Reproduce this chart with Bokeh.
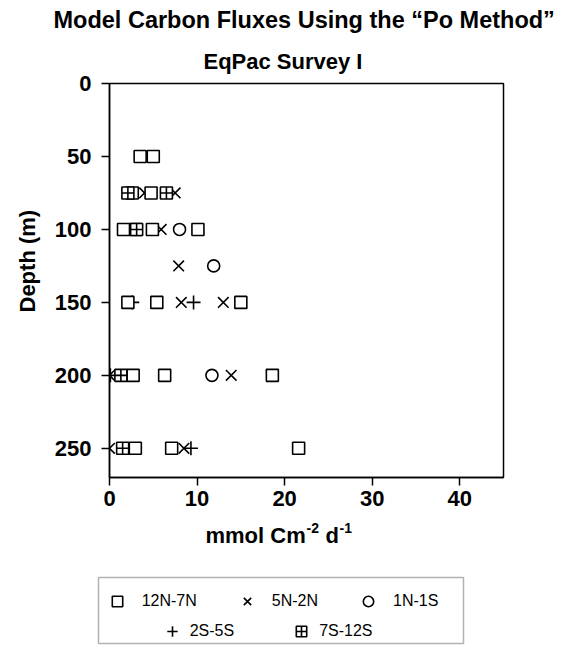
from bokeh.plotting import figure
from bokeh.models import Range1d, Label, BoxAnnotation, Legend, LegendItem, FixedTicker, Title
from bokeh.embed import file_html
from bokeh.resources import INLINE

# ---- data (flux mmol C m-2 d-1 vs depth m) ----
sq_flux = [3.5, 5.0, 2.6, 4.75, 1.6, 3.0, 4.9, 10.1, 2.1, 5.4, 15.0, 2.7, 6.3, 18.6, 2.95, 7.1, 21.6]
sq_depth = [50, 50, 75, 75, 100, 100, 100, 100, 150, 150, 150, 200, 200, 200, 250, 250, 250]
x_flux = [4.0, 7.5, 5.9, 7.9, 8.2, 13.0, 0.0, 13.9, 0.0, 8.5]
x_depth = [75, 75, 100, 125, 150, 150, 200, 200, 250, 250]
o_flux = [8.0, 11.9, 11.7]
o_depth = [100, 125, 200]
p_flux = [2.6, 9.6, 0.1, 9.3]
p_depth = [150, 150, 200, 250]
sc_flux = [2.1, 6.5, 3.1, 1.3, 1.5]
sc_depth = [75, 75, 100, 200, 250]

series_names = ["12N-7N", "5N-2N", "1N-1S", "2S-5S", "7S-12S"]
series_data = {
    "12N-7N": (sq_flux, sq_depth),
    "5N-2N": (x_flux, x_depth),
    "1N-1S": (o_flux, o_depth),
    "2S-5S": (p_flux, p_depth),
    "7S-12S": (sc_flux, sc_depth),
}
x_ticks = [0, 10, 20, 30, 40]
y_ticks = [0, 50, 100, 150, 200, 250]

FONT = "Liberation Sans"
W = 567
HA = 516
HB = 645 - HA

lw = 1.6
mk = {
    "12N-7N": dict(marker="square", size=12, line_color="black", fill_color="white", line_width=lw),
    "5N-2N": dict(marker="x", size=15, line_color="black", line_width=lw),
    "1N-1S": dict(marker="circle", size=12, line_color="black", fill_color="white", line_width=lw),
    "2S-5S": dict(marker="cross", size=14, line_color="black", line_width=lw),
    "7S-12S": dict(marker="square_cross", size=12, line_color="black", fill_color="white", line_width=lw),
}

# ---------------- main chart ----------------
p = figure(width=W, height=HA, output_backend="svg", toolbar_location=None,
           x_range=Range1d(0, 45), y_range=Range1d(270, 0),
           min_border_left=108, min_border_right=W - 503, min_border_top=83, min_border_bottom=HA - 477)
p.xgrid.visible = False
p.ygrid.visible = False
p.outline_line_color = "black"
p.outline_line_width = 1.5
p.border_fill_color = "white"

for ax in (p.xaxis[0], p.yaxis[0]):
    ax.axis_line_width = 1.5
    ax.major_tick_line_width = 1.5
    ax.major_tick_in = 0
    ax.major_tick_out = 8
    ax.minor_tick_line_color = None
    ax.major_label_text_font = FONT
    ax.major_label_text_font_size = "22px"
    ax.major_label_text_font_style = "bold"
    ax.major_label_text_color = "black"
p.xaxis.ticker = FixedTicker(ticks=x_ticks)
p.yaxis.ticker = FixedTicker(ticks=y_ticks)
p.yaxis.major_label_standoff = 10
p.xaxis.major_label_standoff = 5

tstyle = dict(text_font=FONT, text_font_style="bold", text_color="black")
p.add_layout(Title(text="EqPac Survey I", align="left", offset=94, standoff=20,
                   text_font_size="22px", **tstyle), "above")
p.add_layout(Title(text="Model Carbon Fluxes Using the \u201cPo Method\u201d", align="left", offset=-56,
                   standoff=8, text_font_size="23.5px", **tstyle), "above")
p.add_layout(Title(text="Depth (m)", align="left", offset=165, standoff=24,
                   text_font_size="22px", **tstyle), "left")

for n in ["5N-2N", "2S-5S", "1N-1S", "12N-7N", "7S-12S"]:
    fx, dy = series_data[n]
    p.scatter(fx, dy, **mk[n])

# ---------------- axis title + legend panel ----------------
q = figure(width=W, height=HB, output_backend="svg", toolbar_location=None,
           x_axis_location=None, y_axis_location=None, x_range=Range1d(100, 101), y_range=Range1d(-10, -9),
           min_border=0)
q.xgrid.visible = False
q.ygrid.visible = False
q.outline_line_color = None
q.border_fill_color = "white"
q.background_fill_color = "white"


def lab(text, px, py, size="22px", style="bold"):
    # px, py are page positions, converted to the lower panel's screen units
    q.add_layout(Label(x=px, y=645 - py, x_units="screen", y_units="screen", text=text,
                       text_font=FONT, text_font_size=size, text_font_style=style,
                       text_align="left", text_baseline="alphabetic", text_color="black"))


lab("mmol Cm", 205, 535)
lab("-2", 306, 527, size="14px")
lab("d", 325, 535)
lab("-1", 339, 527, size="14px")

q.add_layout(BoxAnnotation(left=98, right=463, top=645 - 577, bottom=645 - 643,
                           left_units="screen", right_units="screen", top_units="screen", bottom_units="screen",
                           fill_alpha=0, line_color="black", line_width=1.5))

# legend swatches: the same series, drawn outside this panel's visible range
rend = {n: q.scatter(series_data[n][0], series_data[n][1], **mk[n]) for n in series_names}

common = dict(orientation="horizontal", border_line_color=None, background_fill_alpha=0,
              padding=0, margin=0, glyph_width=26, glyph_height=26,
              label_text_font=FONT, label_text_font_size="16px", label_text_color="black")
leg1 = Legend(items=[LegendItem(label=n, renderers=[rend[n]]) for n in series_names[:3]],
              location=(103.7, 645 - 613.7), label_standoff=12, spacing=37, **common)
leg2 = Legend(items=[LegendItem(label=n, renderers=[rend[n]]) for n in series_names[3:]],
              location=(158.7, 645 - 643.7), label_standoff=5, spacing=54, **common)
q.add_layout(leg1, "center")
q.add_layout(leg2, "center")

open("out.html", "w").write(file_html([p, q], INLINE))
